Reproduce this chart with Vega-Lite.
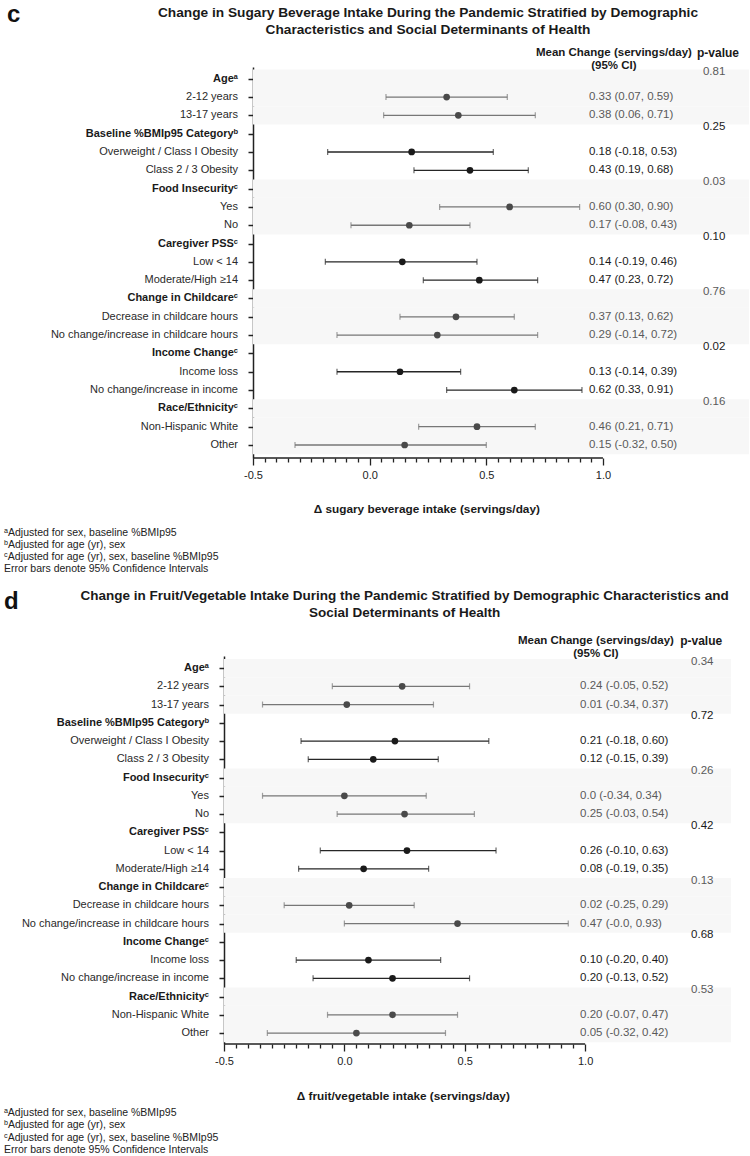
{
  "$schema": "https://vega.github.io/schema/vega-lite/v6.json",
  "padding": {"left": 3, "top": 3, "right": 0, "bottom": 0},
  "columns": 1,
  "spacing": 13,
  "config": {"font": "Liberation Sans", "view": {"stroke": null}},
  "datasets": {
    "c": [
      {"row": 0, "label": "Ageᵃ", "header": true, "shade": "g", "p": "0.81"},
      {"row": 1, "label": "2-12 years", "header": false, "shade": "g", "mean": 0.33, "lo": 0.07, "hi": 0.59, "ci": "0.33 (0.07, 0.59)"},
      {"row": 2, "label": "13-17 years", "header": false, "shade": "g", "mean": 0.38, "lo": 0.06, "hi": 0.71, "ci": "0.38 (0.06, 0.71)"},
      {"row": 3, "label": "Baseline %BMIp95 Categoryᵇ", "header": true, "shade": "w", "p": "0.25"},
      {"row": 4, "label": "Overweight / Class I Obesity", "header": false, "shade": "w", "mean": 0.18, "lo": -0.18, "hi": 0.53, "ci": "0.18 (-0.18, 0.53)"},
      {"row": 5, "label": "Class 2 / 3 Obesity", "header": false, "shade": "w", "mean": 0.43, "lo": 0.19, "hi": 0.68, "ci": "0.43 (0.19, 0.68)"},
      {"row": 6, "label": "Food Insecurityᶜ", "header": true, "shade": "g", "p": "0.03"},
      {"row": 7, "label": "Yes", "header": false, "shade": "g", "mean": 0.60, "lo": 0.30, "hi": 0.90, "ci": "0.60 (0.30, 0.90)"},
      {"row": 8, "label": "No", "header": false, "shade": "g", "mean": 0.17, "lo": -0.08, "hi": 0.43, "ci": "0.17 (-0.08, 0.43)"},
      {"row": 9, "label": "Caregiver PSSᶜ", "header": true, "shade": "w", "p": "0.10"},
      {"row": 10, "label": "Low < 14", "header": false, "shade": "w", "mean": 0.14, "lo": -0.19, "hi": 0.46, "ci": "0.14 (-0.19, 0.46)"},
      {"row": 11, "label": "Moderate/High ≥14", "header": false, "shade": "w", "mean": 0.47, "lo": 0.23, "hi": 0.72, "ci": "0.47 (0.23, 0.72)"},
      {"row": 12, "label": "Change in Childcareᶜ", "header": true, "shade": "g", "p": "0.76"},
      {"row": 13, "label": "Decrease in childcare hours", "header": false, "shade": "g", "mean": 0.37, "lo": 0.13, "hi": 0.62, "ci": "0.37 (0.13, 0.62)"},
      {"row": 14, "label": "No change/increase in childcare hours", "header": false, "shade": "g", "mean": 0.29, "lo": -0.14, "hi": 0.72, "ci": "0.29 (-0.14, 0.72)"},
      {"row": 15, "label": "Income Changeᶜ", "header": true, "shade": "w", "p": "0.02"},
      {"row": 16, "label": "Income loss", "header": false, "shade": "w", "mean": 0.13, "lo": -0.14, "hi": 0.39, "ci": "0.13 (-0.14, 0.39)"},
      {"row": 17, "label": "No change/increase in income", "header": false, "shade": "w", "mean": 0.62, "lo": 0.33, "hi": 0.91, "ci": "0.62 (0.33, 0.91)"},
      {"row": 18, "label": "Race/Ethnicityᶜ", "header": true, "shade": "g", "p": "0.16"},
      {"row": 19, "label": "Non-Hispanic White", "header": false, "shade": "g", "mean": 0.46, "lo": 0.21, "hi": 0.71, "ci": "0.46 (0.21, 0.71)"},
      {"row": 20, "label": "Other", "header": false, "shade": "g", "mean": 0.15, "lo": -0.32, "hi": 0.50, "ci": "0.15 (-0.32, 0.50)"}
    ],
    "d": [
      {"row": 0, "label": "Ageᵃ", "header": true, "shade": "g", "p": "0.34"},
      {"row": 1, "label": "2-12 years", "header": false, "shade": "g", "mean": 0.24, "lo": -0.05, "hi": 0.52, "ci": "0.24 (-0.05, 0.52)"},
      {"row": 2, "label": "13-17 years", "header": false, "shade": "g", "mean": 0.01, "lo": -0.34, "hi": 0.37, "ci": "0.01 (-0.34, 0.37)"},
      {"row": 3, "label": "Baseline %BMIp95 Categoryᵇ", "header": true, "shade": "w", "p": "0.72"},
      {"row": 4, "label": "Overweight / Class I Obesity", "header": false, "shade": "w", "mean": 0.21, "lo": -0.18, "hi": 0.60, "ci": "0.21 (-0.18, 0.60)"},
      {"row": 5, "label": "Class 2 / 3 Obesity", "header": false, "shade": "w", "mean": 0.12, "lo": -0.15, "hi": 0.39, "ci": "0.12 (-0.15, 0.39)"},
      {"row": 6, "label": "Food Insecurityᶜ", "header": true, "shade": "g", "p": "0.26"},
      {"row": 7, "label": "Yes", "header": false, "shade": "g", "mean": 0.0, "lo": -0.34, "hi": 0.34, "ci": "0.0 (-0.34, 0.34)"},
      {"row": 8, "label": "No", "header": false, "shade": "g", "mean": 0.25, "lo": -0.03, "hi": 0.54, "ci": "0.25 (-0.03, 0.54)"},
      {"row": 9, "label": "Caregiver PSSᶜ", "header": true, "shade": "w", "p": "0.42"},
      {"row": 10, "label": "Low < 14", "header": false, "shade": "w", "mean": 0.26, "lo": -0.10, "hi": 0.63, "ci": "0.26 (-0.10, 0.63)"},
      {"row": 11, "label": "Moderate/High ≥14", "header": false, "shade": "w", "mean": 0.08, "lo": -0.19, "hi": 0.35, "ci": "0.08 (-0.19, 0.35)"},
      {"row": 12, "label": "Change in Childcareᶜ", "header": true, "shade": "g", "p": "0.13"},
      {"row": 13, "label": "Decrease in childcare hours", "header": false, "shade": "g", "mean": 0.02, "lo": -0.25, "hi": 0.29, "ci": "0.02 (-0.25, 0.29)"},
      {"row": 14, "label": "No change/increase in childcare hours", "header": false, "shade": "g", "mean": 0.47, "lo": 0.0, "hi": 0.93, "ci": "0.47 (-0.0, 0.93)"},
      {"row": 15, "label": "Income Changeᶜ", "header": true, "shade": "w", "p": "0.68"},
      {"row": 16, "label": "Income loss", "header": false, "shade": "w", "mean": 0.10, "lo": -0.20, "hi": 0.40, "ci": "0.10 (-0.20, 0.40)"},
      {"row": 17, "label": "No change/increase in income", "header": false, "shade": "w", "mean": 0.20, "lo": -0.13, "hi": 0.52, "ci": "0.20 (-0.13, 0.52)"},
      {"row": 18, "label": "Race/Ethnicityᶜ", "header": true, "shade": "g", "p": "0.53"},
      {"row": 19, "label": "Non-Hispanic White", "header": false, "shade": "g", "mean": 0.20, "lo": -0.07, "hi": 0.47, "ci": "0.20 (-0.07, 0.47)"},
      {"row": 20, "label": "Other", "header": false, "shade": "g", "mean": 0.05, "lo": -0.32, "hi": 0.42, "ci": "0.05 (-0.32, 0.42)"}
    ]
  },
  "concat": [
    {
      "width": 525,
      "height": 391,
      "data": {"name": "c"},
      "resolve": {"scale": {"color": "independent"}},
      "layer": [
        {
          "transform": [{"filter": "datum.shade == 'g'"}],
          "mark": {"type": "bar", "orient": "horizontal", "size": 18.4, "color": "#f7f7f7"},
          "encoding": {
            "y": {"field": "row", "type": "quantitative",
                  "scale": {"domain": [-0.64, 20.71], "reverse": true, "nice": false, "zero": false, "padding": 0},
                  "axis": {"values": [0,1,2,3,4,5,6,7,8,9,10,11,12,13,14,15,16,17,18,19,20], "tickCount": 100, "offset": -29, "labels": false, "title": null, "grid": false, "tickSize": 5, "tickWidth": 1.5, "tickColor": "#222222", "domainColor": "#222222", "domainWidth": 1.5}},
            "x": {"datum": -0.5, "type": "quantitative",
                  "scale": {"domain": [-0.6243, 1.626], "nice": false, "zero": false, "padding": 0},
                  "axis": {"values": [-0.5,-0.45,-0.4,-0.35,-0.3,-0.25,-0.2,-0.15,-0.1,-0.05,0,0.05,0.1,0.15,0.2,0.25,0.3,0.35,0.4,0.45,0.5,0.55,0.6,0.65,0.7,0.75,0.8,0.85,0.9,0.95,1.0],
                           "tickCount": 100, "domain": false, "grid": false, "title": null, "labelOverlap": false, "labelFlush": false,
                           "labelExpr": "abs(datum.value*2 - round(datum.value*2)) < 0.001 ? (datum.value < 0 ? '-' : '') + format(abs(datum.value), '.1f') : ''",
                           "labelFontSize": 11, "labelColor": "#222222", "labelPadding": 4,
                           "tickColor": "#222222", "tickWidth": 1.3,
                           "tickSize": {"condition": {"test": "abs(datum.value*2 - round(datum.value*2)) < 0.001", "value": 7}, "value": 4}}},
            "x2": {"datum": 1.626}
          }
        },
        {
          "data": {"values": [{}]},
          "mark": {"type": "rule", "color": "#222222", "strokeWidth": 1.5},
          "encoding": {"x": {"datum": -0.5}, "x2": {"datum": 1.0}, "y": {"datum": 20.71}}
        },
        {
          "transform": [{"filter": "!datum.header"}],
          "mark": {"type": "rule", "strokeWidth": 1.3},
          "encoding": {
            "x": {"field": "lo", "type": "quantitative"}, "x2": {"field": "hi"},
            "y": {"field": "row", "type": "quantitative"},
            "color": {"field": "shade", "type": "nominal", "scale": {"domain": ["g", "w"], "range": ["#777777", "#262626"]}, "legend": null}
          }
        },
        {
          "transform": [{"filter": "!datum.header"}],
          "mark": {"type": "tick", "orient": "vertical", "size": 6, "thickness": 1.2},
          "encoding": {
            "x": {"field": "lo", "type": "quantitative"},
            "y": {"field": "row", "type": "quantitative"},
            "color": {"field": "shade", "type": "nominal", "scale": {"domain": ["g", "w"], "range": ["#777777", "#262626"]}, "legend": null}
          }
        },
        {
          "transform": [{"filter": "!datum.header"}],
          "mark": {"type": "tick", "orient": "vertical", "size": 6, "thickness": 1.2},
          "encoding": {
            "x": {"field": "hi", "type": "quantitative"},
            "y": {"field": "row", "type": "quantitative"},
            "color": {"field": "shade", "type": "nominal", "scale": {"domain": ["g", "w"], "range": ["#777777", "#262626"]}, "legend": null}
          }
        },
        {
          "transform": [{"filter": "!datum.header"}],
          "mark": {"type": "circle", "size": 45, "opacity": 1},
          "encoding": {
            "x": {"field": "mean", "type": "quantitative"},
            "y": {"field": "row", "type": "quantitative"},
            "color": {"field": "shade", "type": "nominal", "scale": {"domain": ["g", "w"], "range": ["#4a4a4a", "#1a1a1a"]}, "legend": null}
          }
        },
        {
          "transform": [{"filter": "!datum.header"}],
          "mark": {"type": "text", "align": "left", "baseline": "middle", "fontSize": 11.5},
          "encoding": {
            "x": {"datum": 0.94},
            "y": {"field": "row", "type": "quantitative"},
            "text": {"field": "ci"},
            "color": {"field": "shade", "type": "nominal", "scale": {"domain": ["g", "w"], "range": ["#5a5a5a", "#1a1a1a"]}, "legend": null}
          }
        },
        {
          "transform": [{"filter": "datum.header"}],
          "mark": {"type": "text", "align": "left", "baseline": "middle", "fontSize": 11.5, "dy": -6.5},
          "encoding": {
            "x": {"datum": 1.4286},
            "y": {"field": "row", "type": "quantitative"},
            "text": {"field": "p"},
            "color": {"field": "shade", "type": "nominal", "scale": {"domain": ["g", "w"], "range": ["#5a5a5a", "#1a1a1a"]}, "legend": null}
          }
        },
        {
          "transform": [{"filter": "datum.header"}],
          "mark": {"type": "text", "align": "right", "baseline": "middle", "dx": -15, "fontSize": 11, "fontWeight": "bold", "color": "#1a1a1a"},
          "encoding": {"x": {"datum": -0.5}, "y": {"field": "row", "type": "quantitative"}, "text": {"field": "label"}}
        },
        {
          "transform": [{"filter": "!datum.header"}],
          "mark": {"type": "text", "align": "right", "baseline": "middle", "dx": -15, "fontSize": 11, "color": "#2a2a2a"},
          "encoding": {"x": {"datum": -0.5}, "y": {"field": "row", "type": "quantitative"}, "text": {"field": "label"}}
        },
        {
          "data": {"values": [{}]},
          "mark": {"type": "text", "text": "c", "align": "left", "baseline": "alphabetic", "fontSize": 24, "fontWeight": "bold", "color": "#111111"},
          "encoding": {"x": {"datum": -1.554}, "y": {"datum": -3.07}}
        },
        {
          "data": {"values": [{}]},
          "mark": {"type": "text", "text": ["Change in Sugary Beverage Intake During the Pandemic Stratified by Demographic", "Characteristics and Social Determinants of Health"], "align": "center", "baseline": "middle", "fontSize": 13.7, "lineHeight": 17, "fontWeight": "bold", "color": "#1a1a1a"},
          "encoding": {"x": {"datum": 0.25}, "y": {"datum": -3.59}}
        },
        {
          "data": {"values": [{}]},
          "mark": {"type": "text", "text": ["Mean Change (servings/day)", "(95% CI)"], "align": "center", "baseline": "middle", "fontSize": 11.5, "lineHeight": 13, "fontWeight": "bold", "color": "#1a1a1a"},
          "encoding": {"x": {"datum": 1.047}, "y": {"datum": -1.38}}
        },
        {
          "data": {"values": [{}]},
          "mark": {"type": "text", "text": "p-value", "align": "center", "baseline": "middle", "fontSize": 12, "fontWeight": "bold", "color": "#1a1a1a"},
          "encoding": {"x": {"datum": 1.493}, "y": {"datum": -1.38}}
        },
        {
          "data": {"values": [{}]},
          "mark": {"type": "text", "text": "Δ sugary beverage intake (servings/day)", "align": "center", "baseline": "middle", "fontSize": 11.8, "fontWeight": "bold", "color": "#1a1a1a"},
          "encoding": {"x": {"datum": 0.245}, "y": {"datum": 23.47}}
        },
        {
          "data": {"values": [{}]},
          "mark": {"type": "text", "text": ["ᵃAdjusted for sex, baseline %BMIp95", "ᵇAdjusted for age (yr), sex", "ᶜAdjusted for age (yr), sex, baseline %BMIp95", "Error bars denote 95% Confidence Intervals"], "align": "left", "baseline": "middle", "fontSize": 10.5, "lineHeight": 12.3, "color": "#222222"},
          "encoding": {"x": {"datum": -1.567}, "y": {"datum": 24.78}}
        }
      ]
    },
    {
      "width": 507,
      "height": 388,
      "data": {"name": "d"},
      "resolve": {"scale": {"color": "independent"}},
      "layer": [
        {
          "transform": [{"filter": "datum.shade == 'g'"}],
          "mark": {"type": "bar", "orient": "horizontal", "size": 18.3, "color": "#f7f7f7"},
          "encoding": {
            "y": {"field": "row", "type": "quantitative",
                  "scale": {"domain": [-0.66, 20.6], "reverse": true, "nice": false, "zero": false, "padding": 0},
                  "axis": {"values": [0,1,2,3,4,5,6,7,8,9,10,11,12,13,14,15,16,17,18,19,20], "tickCount": 100, "labels": false, "title": null, "grid": false, "tickSize": 5, "tickWidth": 1.5, "tickColor": "#222222", "domainColor": "#222222", "domainWidth": 1.5}},
            "x": {"datum": -0.5, "type": "quantitative",
                  "scale": {"domain": [-0.5, 1.606], "nice": false, "zero": false, "padding": 0},
                  "axis": {"values": [-0.5,-0.45,-0.4,-0.35,-0.3,-0.25,-0.2,-0.15,-0.1,-0.05,0,0.05,0.1,0.15,0.2,0.25,0.3,0.35,0.4,0.45,0.5,0.55,0.6,0.65,0.7,0.75,0.8,0.85,0.9,0.95,1.0],
                           "tickCount": 100, "domain": false, "grid": false, "title": null, "labelOverlap": false, "labelFlush": false,
                           "labelExpr": "abs(datum.value*2 - round(datum.value*2)) < 0.001 ? (datum.value < 0 ? '-' : '') + format(abs(datum.value), '.1f') : ''",
                           "labelFontSize": 11, "labelColor": "#222222", "labelPadding": 4,
                           "tickColor": "#222222", "tickWidth": 1.3,
                           "tickSize": {"condition": {"test": "abs(datum.value*2 - round(datum.value*2)) < 0.001", "value": 7}, "value": 4}}},
            "x2": {"datum": 1.606}
          }
        },
        {
          "data": {"values": [{}]},
          "mark": {"type": "rule", "color": "#222222", "strokeWidth": 1.5},
          "encoding": {"x": {"datum": -0.5}, "x2": {"datum": 1.0}, "y": {"datum": 20.6}}
        },
        {
          "transform": [{"filter": "!datum.header"}],
          "mark": {"type": "rule", "strokeWidth": 1.3},
          "encoding": {
            "x": {"field": "lo", "type": "quantitative"}, "x2": {"field": "hi"},
            "y": {"field": "row", "type": "quantitative"},
            "color": {"field": "shade", "type": "nominal", "scale": {"domain": ["g", "w"], "range": ["#777777", "#262626"]}, "legend": null}
          }
        },
        {
          "transform": [{"filter": "!datum.header"}],
          "mark": {"type": "tick", "orient": "vertical", "size": 6, "thickness": 1.2},
          "encoding": {
            "x": {"field": "lo", "type": "quantitative"},
            "y": {"field": "row", "type": "quantitative"},
            "color": {"field": "shade", "type": "nominal", "scale": {"domain": ["g", "w"], "range": ["#777777", "#262626"]}, "legend": null}
          }
        },
        {
          "transform": [{"filter": "!datum.header"}],
          "mark": {"type": "tick", "orient": "vertical", "size": 6, "thickness": 1.2},
          "encoding": {
            "x": {"field": "hi", "type": "quantitative"},
            "y": {"field": "row", "type": "quantitative"},
            "color": {"field": "shade", "type": "nominal", "scale": {"domain": ["g", "w"], "range": ["#777777", "#262626"]}, "legend": null}
          }
        },
        {
          "transform": [{"filter": "!datum.header"}],
          "mark": {"type": "circle", "size": 45, "opacity": 1},
          "encoding": {
            "x": {"field": "mean", "type": "quantitative"},
            "y": {"field": "row", "type": "quantitative"},
            "color": {"field": "shade", "type": "nominal", "scale": {"domain": ["g", "w"], "range": ["#4a4a4a", "#1a1a1a"]}, "legend": null}
          }
        },
        {
          "transform": [{"filter": "!datum.header"}],
          "mark": {"type": "text", "align": "left", "baseline": "middle", "fontSize": 11.5},
          "encoding": {
            "x": {"datum": 0.979},
            "y": {"field": "row", "type": "quantitative"},
            "text": {"field": "ci"},
            "color": {"field": "shade", "type": "nominal", "scale": {"domain": ["g", "w"], "range": ["#5a5a5a", "#1a1a1a"]}, "legend": null}
          }
        },
        {
          "transform": [{"filter": "datum.header"}],
          "mark": {"type": "text", "align": "left", "baseline": "middle", "fontSize": 11.5, "dy": -6.5},
          "encoding": {
            "x": {"datum": 1.44},
            "y": {"field": "row", "type": "quantitative"},
            "text": {"field": "p"},
            "color": {"field": "shade", "type": "nominal", "scale": {"domain": ["g", "w"], "range": ["#5a5a5a", "#1a1a1a"]}, "legend": null}
          }
        },
        {
          "transform": [{"filter": "datum.header"}],
          "mark": {"type": "text", "align": "right", "baseline": "middle", "dx": -15, "fontSize": 11, "fontWeight": "bold", "color": "#1a1a1a"},
          "encoding": {"x": {"datum": -0.5}, "y": {"field": "row", "type": "quantitative"}, "text": {"field": "label"}}
        },
        {
          "transform": [{"filter": "!datum.header"}],
          "mark": {"type": "text", "align": "right", "baseline": "middle", "dx": -15, "fontSize": 11, "color": "#2a2a2a"},
          "encoding": {"x": {"datum": -0.5}, "y": {"field": "row", "type": "quantitative"}, "text": {"field": "label"}}
        },
        {
          "data": {"values": [{}]},
          "mark": {"type": "text", "text": "d", "align": "left", "baseline": "alphabetic", "fontSize": 24, "fontWeight": "bold", "color": "#111111"},
          "encoding": {"x": {"datum": -1.414}, "y": {"datum": -3.23}}
        },
        {
          "data": {"values": [{}]},
          "mark": {"type": "text", "text": ["Change in Fruit/Vegetable Intake During the Pandemic Stratified by Demographic Characteristics and", "Social Determinants of Health"], "align": "center", "baseline": "middle", "fontSize": 13.5, "lineHeight": 17, "fontWeight": "bold", "color": "#1a1a1a"},
          "encoding": {"x": {"datum": 0.25}, "y": {"datum": -3.95}}
        },
        {
          "data": {"values": [{}]},
          "mark": {"type": "text", "text": ["Mean Change (servings/day)", "(95% CI)"], "align": "center", "baseline": "middle", "fontSize": 11.5, "lineHeight": 13, "fontWeight": "bold", "color": "#1a1a1a"},
          "encoding": {"x": {"datum": 1.045}, "y": {"datum": -1.48}}
        },
        {
          "data": {"values": [{}]},
          "mark": {"type": "text", "text": "p-value", "align": "center", "baseline": "middle", "fontSize": 12, "fontWeight": "bold", "color": "#1a1a1a"},
          "encoding": {"x": {"datum": 1.482}, "y": {"datum": -1.48}}
        },
        {
          "data": {"values": [{}]},
          "mark": {"type": "text", "text": "Δ fruit/vegetable intake (servings/day)", "align": "center", "baseline": "middle", "fontSize": 11.8, "fontWeight": "bold", "color": "#1a1a1a"},
          "encoding": {"x": {"datum": 0.245}, "y": {"datum": 23.45}}
        },
        {
          "data": {"values": [{}]},
          "mark": {"type": "text", "text": ["ᵃAdjusted for sex, baseline %BMIp95", "ᵇAdjusted for age (yr), sex", "ᶜAdjusted for age (yr), sex, baseline %BMIp95", "Error bars denote 95% Confidence Intervals"], "align": "left", "baseline": "middle", "fontSize": 10.5, "lineHeight": 12.3, "color": "#222222"},
          "encoding": {"x": {"datum": -1.414}, "y": {"datum": 24.38}}
        }
      ]
    }
  ]
}
